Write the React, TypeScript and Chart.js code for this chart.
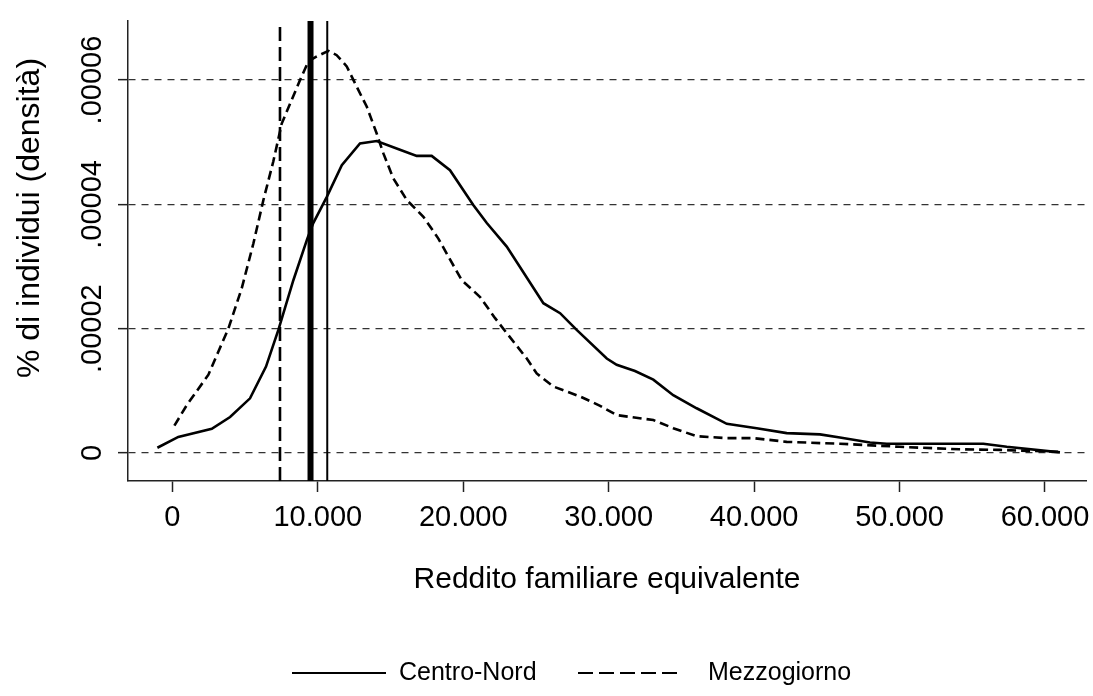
import React, { useEffect, useRef } from "react";
import { Chart, registerables } from "chart.js";

Chart.register(...registerables);

// ---- Data (x: reddito in euro, y: densità) ----
const cnX = [-1030, 410, 2710, 3970, 5340, 6440, 7290, 8320, 9280, 9690, 10620, 11650, 12900, 14050, 15650, 16800, 17830, 19090, 20690, 21620, 22990, 25510, 26660, 27800, 29870, 30550, 31810, 33070, 34440, 36050, 38120, 40180, 42240, 44530, 45900, 47970, 49120, 55760, 57370, 61030];
const cnY = [0.00000085, 0.0000026, 0.0000039, 0.0000058, 0.0000088, 0.0000139, 0.0000198, 0.0000278, 0.0000345, 0.000037, 0.0000412, 0.0000463, 0.0000498, 0.0000502, 0.0000488, 0.0000478, 0.0000478, 0.0000455, 0.0000399, 0.000037, 0.0000332, 0.0000241, 0.0000225, 0.0000198, 0.0000152, 0.0000142, 0.0000132, 0.0000118, 0.0000093, 0.0000072, 0.0000047, 0.000004, 0.0000032, 0.000003, 0.0000025, 0.0000017, 0.0000015, 0.0000015, 0.000001, 0.0000001];

const mzX = [140, 990, 2480, 3160, 3850, 4770, 5570, 6260, 6940, 7520, 8780, 9350, 9930, 10730, 11300, 11990, 12680, 13370, 14050, 14510, 15190, 16120, 17260, 18290, 18980, 19900, 21160, 22190, 22990, 24370, 25050, 26190, 28030, 29410, 30550, 33070, 34440, 36050, 38120, 39950, 42240, 44530, 45900, 50000, 54100, 56900, 61000];
const mzY = [0.0000044, 0.0000077, 0.0000126, 0.0000163, 0.00002, 0.0000265, 0.0000337, 0.0000407, 0.0000469, 0.000053, 0.00006, 0.000063, 0.0000638, 0.0000647, 0.000064, 0.0000622, 0.0000589, 0.0000557, 0.0000514, 0.0000482, 0.0000442, 0.0000407, 0.000038, 0.0000345, 0.0000316, 0.0000278, 0.0000251, 0.0000217, 0.0000193, 0.0000152, 0.0000128, 0.0000107, 0.0000091, 0.0000076, 0.0000061, 0.0000053, 0.000004, 0.0000027, 0.0000024, 0.0000024, 0.0000018, 0.0000016, 0.0000015, 0.000001, 0.0000006, 0.0000005, 0.0000002];

// vertical reference lines: Mezzogiorno (dashed), Italia (thick), Centro-Nord (thin)
const refX = [7400, 9500, 10650];

const seriesNames = ["Centro-Nord", "Mezzogiorno"];
const xTicks = [0, 10000, 20000, 30000, 40000, 50000, 60000];
const xTickLabels = ["0", "10.000", "20.000", "30.000", "40.000", "50.000", "60.000"];
const yTicks = [0, 0.00002, 0.00004, 0.00006];
const yTickLabels = ["0", ".00002", ".00004", ".00006"];
const xTitle = "Reddito familiare equivalente";
const yTitle = "% di individui (densità)";

const X_MIN = -3050;
const X_MAX = 62820;
const Y_MIN = -0.0000045;
const Y_MAX = 0.0000695;

const FONT = "'Liberation Sans', Arial, Helvetica, sans-serif";

const toPts = (xs: number[], ys: number[]) => xs.map((x, i) => ({ x, y: ys[i] }));

const textPlugin = {
  id: "stataText",
  afterDraw(chart: any) {
    const { ctx, chartArea, scales } = chart;
    const y = scales.y;
    ctx.save();
    ctx.fillStyle = "#000";
    // y tick labels rotated
    ctx.font = `29px ${FONT}`;
    ctx.textAlign = "center";
    ctx.textBaseline = "middle";
    yTicks.forEach((v, i) => {
      const py = y.getPixelForValue(v);
      ctx.save();
      ctx.translate(93, py);
      ctx.rotate(-Math.PI / 2);
      ctx.fillText(yTickLabels[i], 0, 0);
      ctx.restore();
    });
    // y title
    ctx.font = `32px ${FONT}`;
    ctx.save();
    ctx.translate(30, 218);
    ctx.rotate(-Math.PI / 2);
    ctx.fillText(yTitle, 0, 0);
    ctx.restore();
    // x title
    ctx.font = `30px ${FONT}`;
    ctx.fillText(xTitle, (chartArea.left + chartArea.right) / 2, 580);
    // legend
    const ly = 673;
    ctx.strokeStyle = "#000";
    ctx.lineWidth = 2.2;
    ctx.beginPath();
    ctx.moveTo(292, ly);
    ctx.lineTo(386, ly);
    ctx.stroke();
    ctx.setLineDash([15, 6]);
    ctx.beginPath();
    ctx.moveTo(578, ly);
    ctx.lineTo(683, ly);
    ctx.stroke();
    ctx.setLineDash([]);
    ctx.font = `25px ${FONT}`;
    ctx.textAlign = "left";
    ctx.fillText(seriesNames[0], 399, ly);
    ctx.fillText(seriesNames[1], 708, ly);
    ctx.restore();
  },
};

export default function App() {
  const ref = useRef<HTMLCanvasElement | null>(null);
  useEffect(() => {
    if (!ref.current) return;
    const refDs = refX.map((x, i) => ({
      label: "ref" + i,
      data: [
        { x, y: Y_MIN },
        { x, y: Y_MAX },
      ],
      borderColor: "#000",
      borderWidth: i === 1 ? 6 : i === 0 ? 2.6 : 2,
      borderDash: i === 0 ? [14, 6] : [],
      pointRadius: 0,
      fill: false,
    }));
    const chart = new Chart(ref.current, {
      type: "line",
      data: {
        datasets: [
          {
            label: seriesNames[0],
            data: toPts(cnX, cnY),
            borderColor: "#000",
            borderWidth: 2.6,
            pointRadius: 0,
            tension: 0,
            fill: false,
          },
          {
            label: seriesNames[1],
            data: toPts(mzX, mzY),
            borderColor: "#000",
            borderWidth: 2.6,
            borderDash: [9, 5],
            pointRadius: 0,
            tension: 0,
            fill: false,
          },
          ...refDs,
        ],
      },
      options: {
        animation: false,
        responsive: false,
        events: [],
        layout: { padding: { left: 0, right: 7, top: 21, bottom: 0 } },
        plugins: {
          legend: { display: false },
          tooltip: { enabled: false },
        },
        scales: {
          x: {
            type: "linear",
            min: X_MIN,
            max: X_MAX,
            afterBuildTicks: (s: any) => {
              s.ticks = xTicks.map((v) => ({ value: v }));
            },
            afterFit: (s: any) => {
              s.height = 215;
              s.paddingLeft = 0;
              s.paddingRight = 0;
            },
            grid: {
              drawOnChartArea: false,
              drawTicks: true,
              tickLength: 11,
              tickColor: "#222",
              tickWidth: 1.5,
              color: "#222",
            },
            border: { display: true, color: "#222", width: 1.5 },
            ticks: {
              autoSkip: false,
              maxRotation: 0,
              padding: 9,
              color: "#000",
              font: { family: FONT, size: 29 },
              callback: (v: any) => xTickLabels[xTicks.indexOf(Number(v))],
            },
          },
          y: {
            type: "linear",
            min: Y_MIN,
            max: Y_MAX,
            afterBuildTicks: (s: any) => {
              s.ticks = yTicks.map((v) => ({ value: v }));
            },
            afterFit: (s: any) => {
              s.width = 128;
              s.paddingTop = 0;
              s.paddingBottom = 0;
            },
            grid: {
              drawOnChartArea: true,
              drawTicks: true,
              tickLength: 10,
              color: "#333",
              lineWidth: 1.3,
              tickColor: "#222",
              tickWidth: 1.5,
              tickBorderDash: [],
            },
            border: { display: true, color: "#222", width: 1.5, dash: [7, 6] },
            ticks: { display: false },
          },
        },
      },
      plugins: [textPlugin],
    });
    return () => chart.destroy();
  }, []);
  return (
    <div style={{ position: "absolute", left: 0, top: 0, width: 1093, height: 696, background: "#fff" }}>
      <canvas ref={ref} width={1093} height={696} style={{ display: "block" }} />
    </div>
  );
}
